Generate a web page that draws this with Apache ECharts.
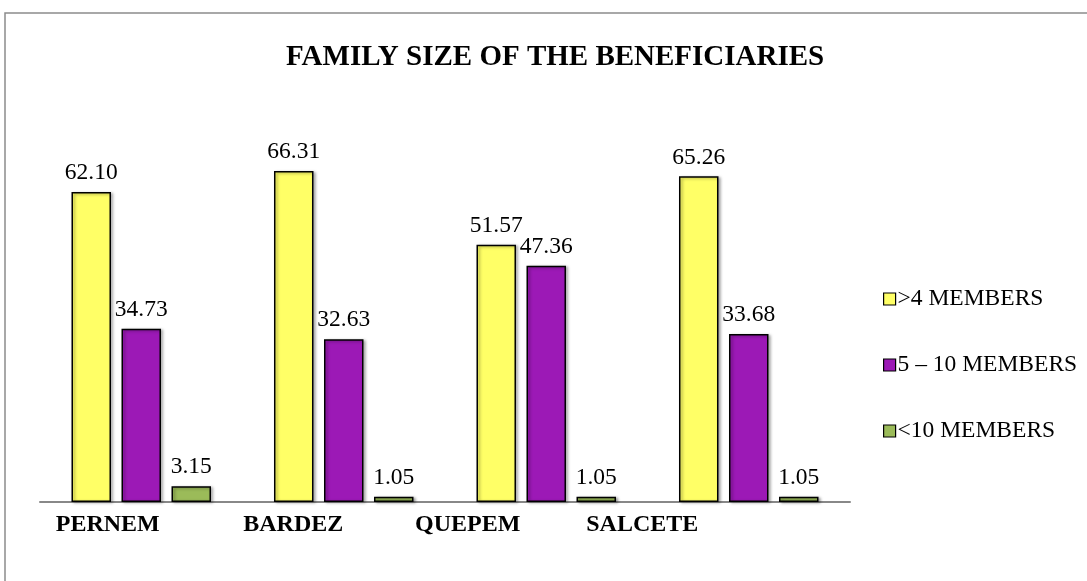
<!DOCTYPE html>
<html>
<head>
<meta charset="utf-8">
<script src="https://cdn.jsdelivr.net/npm/echarts@6/dist/echarts.min.js"></script>
<style>html,body{margin:0;padding:0;background:#fff}#c{width:1087px;height:581px}</style>
</head>
<body>
<div id="c"></div>
<script>
var categories = ["PERNEM", "BARDEZ", "QUEPEM", "SALCETE"];
var seriesNames = [">4 MEMBERS", "5 \u2013 10 MEMBERS", "<10 MEMBERS"];
var above4 = [62.10, 66.31, 51.57, 65.26];
var five10 = [34.73, 32.63, 47.36, 33.68];
var below10 = [3.15, 1.05, 1.05, 1.05];

var colors = ["#FFFF66", "#9C19B6", "#9BBB59"];
var labelShift = [67, 101, 157, 213];
var font = "'Liberation Serif','Times New Roman',serif";

var chart = echarts.init(document.getElementById('c'));
function mk(name, data, color) {
  return {
    name: name, type: 'bar', data: data, barWidth: 39.5, barGap: '26.6%',
    itemStyle: { color: color, borderColor: '#000', borderWidth: 1.5,
      shadowBlur: 3, shadowColor: 'rgba(0,0,0,0.35)', shadowOffsetX: 2, shadowOffsetY: 1 },
    label: { show: true, position: 'top', distance: 7, color: '#000', fontFamily: font, fontSize: 23.5,
      formatter: function (p) { return p.value.toFixed(2); } }
  };
}
chart.setOption({
  animation: false,
  backgroundColor: '#fff',
  title: { text: 'FAMILY SIZE OF THE BENEFICIARIES', left: 281, top: 38,
    textStyle: { fontFamily: font, fontWeight: 'bold', fontSize: 29, color: '#000' } },
  graphic: [{ type: 'rect', shape: { x: 5, y: 13, width: 1100, height: 620 },
    style: { fill: 'none', stroke: '#8c8c8c', lineWidth: 1.5 }, silent: true }],
  legend: { orient: 'vertical', left: 878, top: 282, itemWidth: 12, itemHeight: 12, itemGap: 42,
    icon: 'rect',
    itemStyle: { borderColor: '#000', borderWidth: 1.2, shadowBlur: 0, shadowOffsetX: 0, shadowOffsetY: 0 },
    textStyle: { fontFamily: font, fontSize: 23.5, color: '#000', lineHeight: 23, padding: [0, 0, 0, -3] },
    data: seriesNames },
  grid: { left: 40, right: 237, top: 152.7, bottom: 79, containLabel: false },
  xAxis: { type: 'category',
    data: categories.map(function (c, i) { return { value: c, textStyle: { padding: [0, labelShift[i], 0, 0] } }; }),
    axisLine: { lineStyle: { color: '#888', width: 2 } }, axisTick: { show: false },
    axisLabel: { margin: 11, color: '#000', fontFamily: font, fontWeight: 'bold', fontSize: 24, interval: 0 } },
  yAxis: { type: 'value', min: 0, max: 70, show: false, splitLine: { show: false } },
  series: [mk(seriesNames[0], above4, colors[0]), mk(seriesNames[1], five10, colors[1]), mk(seriesNames[2], below10, colors[2])]
});
</script>
</body>
</html>
